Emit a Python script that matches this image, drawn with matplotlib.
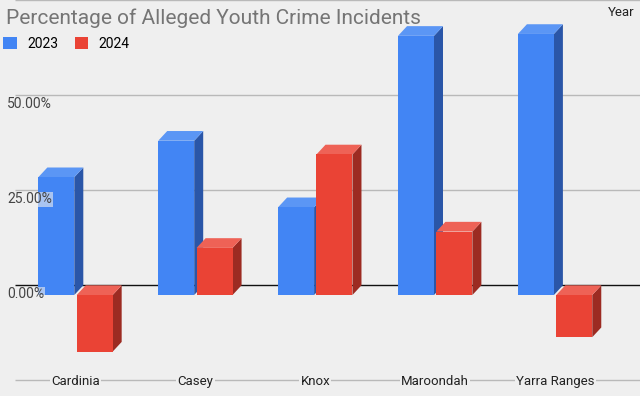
import matplotlib
matplotlib.use("Agg")
import matplotlib.pyplot as plt
from matplotlib.patches import Polygon, Patch

# ---------------------------------------------------------------------------
# Data (percent)
# ---------------------------------------------------------------------------
regions = ["Cardinia", "Casey", "Knox", "Maroondah", "Yarra Ranges"]
pct_2023 = [31.0, 40.6, 23.1, 68.2, 68.7]
pct_2024 = [-14.9, 12.4, 37.0, 16.7, -11.1]
grid_values = [-25, 0, 25, 50, 75]
tick_values = [0, 25, 50]
tick_labels = ["0.00%", "25.00%", "50.00%"]

BG = "#efefef"
BLUE = ("#4285f4", "#5b96f5", "#2a56a8")   # front, top, side
RED = ("#ea4335", "#ee6256", "#9c2b22")

plt.rcParams["font.family"] = ["Roboto", "DejaVu Sans"]

fig = plt.figure(figsize=(6.4, 3.96), dpi=100, facecolor=BG)
ax = fig.add_axes([0, 0, 1, 1])
ax.set_facecolor(BG)

px_per_pct = 3.8
px_per_cat = 119.9
ax.set_xlim(-75.5 / px_per_cat, -75.5 / px_per_cat + 640 / px_per_cat)
ax.set_ylim(75.08 - 396 / px_per_pct, 75.08)
ax.axis("off")

# depth of the fake 3D bars, in data units
dx = 9 / px_per_cat
dy = 9.7 / px_per_pct
bar_w = 0.30
gap = 0.01

# gridlines (back plane)
x_left = ax.get_xlim()[0] + 15 / px_per_cat
x_right = ax.get_xlim()[1]
for g in grid_values:
    ax.plot([x_left, x_right], [g, g], color="#111111" if g == 0 else "#b9b9b9",
            lw=1.0, zorder=1, solid_capstyle="butt")


def draw_bar(x0, v, colors):
    front, top, side = colors
    x1 = x0 + bar_w
    lo, hi = min(0, v) - dy, max(0, v) - dy
    ax.add_patch(Polygon([(x1, lo), (x1 + dx, lo + dy), (x1 + dx, hi + dy), (x1, hi)],
                         closed=True, fc=side, ec="none", zorder=3))
    ax.add_patch(Polygon([(x0, hi), (x1, hi), (x1 + dx, hi + dy), (x0 + dx, hi + dy)],
                         closed=True, fc=top, ec="none", zorder=3))
    ax.add_patch(Polygon([(x0, lo), (x1, lo), (x1, hi), (x0, hi)],
                         closed=True, fc=front, ec="none", zorder=3))


for i in range(len(regions)):
    draw_bar(i - gap - bar_w, pct_2023[i], BLUE)
    draw_bar(i + gap, pct_2024[i], RED)

# y tick labels sit just under their gridlines
x_lab = ax.get_xlim()[0] + 7 / px_per_cat
for v, lab in zip(tick_values, tick_labels):
    ax.text(x_lab, v - 9 / px_per_pct, lab, fontsize=10, color="#444444",
            ha="left", va="center", zorder=4,
            bbox=dict(boxstyle="square,pad=0.05", fc=BG, ec="none", alpha=0.6))

# category labels on the bottom line
for i, name in enumerate(regions):
    ax.text(i, -25 - 1.5 / px_per_pct, name, fontsize=9.5, color="#222222",
            ha="center", va="center", zorder=4,
            bbox=dict(boxstyle="square,pad=0.1", fc=BG, ec="none"))

fig.text(6 / 640, 1 - 18 / 396, "Percentage of Alleged Youth Crime Incidents",
         fontsize=15, color="#757575", ha="left", va="center")
fig.text(635 / 640, 1 - 12 / 396, "Year", fontsize=9.5, color="#222222",
         ha="right", va="center")

handles = [Patch(fc=BLUE[0], ec="none", label="2023"),
           Patch(fc=RED[0], ec="none", label="2024")]
fig.legend(handles=handles, loc="center left", bbox_to_anchor=(-0.01, 1 - 44 / 396),
           ncol=2, frameon=False, fontsize=10, handlelength=0.95, handleheight=0.95,
           handletextpad=0.75, columnspacing=1.2, borderpad=0.2)

fig.savefig("out.png", dpi=100, facecolor=BG)
